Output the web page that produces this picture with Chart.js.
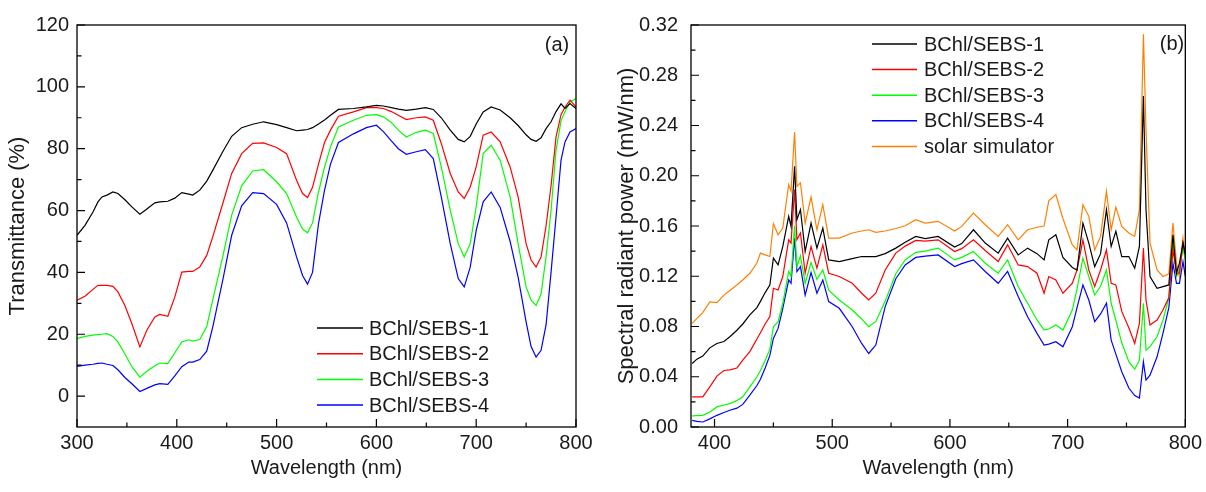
<!DOCTYPE html>
<html>
<head>
<meta charset="utf-8">
<script src="https://cdn.jsdelivr.net/npm/chart.js@4.4.1/dist/chart.umd.min.js"></script>
<style>
  html, body { margin: 0; padding: 0; background: #fff; }
  #wrap { position: relative; width: 1206px; height: 492px; }
  .panel { position: absolute; top: 0; height: 492px; }
  #panelA { left: 0; width: 600px; }
  #panelB { left: 600px; width: 606px; }
</style>
</head>
<body>
<div id="wrap">
  <div class="panel" id="panelA"><canvas id="chartA"></canvas></div>
  <div class="panel" id="panelB"><canvas id="chartB"></canvas></div>
</div>
<script>
// ---- data, panel (a): transmittance (%) ----
const waveA = [300,308,316,321,325,330,336,341,348,355,363,370,378,383,391,398,405,412,416,423,
  430,436,446,455,465,476,487,500,510,520,526,531,536,542,548,554,562,577,590,600,
  607,615,622,630,640,649,657,665,674,682,688,694,700,707,715,724,734,742,750,755,
  760,765,770,775,780,785,789,794,800];
const transA1 = [52,55.2,59.5,62.8,64.4,65,66,65.5,63.5,61.2,58.8,60.5,62.5,62.8,63,64,65.8,65.3,65,66.6,
  69.5,73,79,84,86.8,87.9,88.7,87.8,86.8,85.8,86,86.2,86.8,88,89.3,90.8,92.7,93,93.5,94,
  93.8,93.3,92.8,92.4,92.8,93.3,92.7,90,86,83,82.2,84,88,91.9,93.5,92.5,90,87.5,84.5,83,
  82.4,83.5,86.5,88.7,92,94.5,93,94.6,93];
const transA2 = [31,32.3,34.5,35.8,35.8,35.8,35.5,33.7,29.3,23.4,15.9,21.3,25.6,26.4,25.8,32,40.1,40.3,40.3,41.7,
  45.5,51.5,62.2,72,78.4,81.7,81.9,80.4,78.4,69.8,65.5,64.2,67.5,75,82,86,90.5,91.9,93.3,93.3,
  93,92,90.8,89.4,90,90.3,89.2,81.7,72,66,63.9,67.6,74.1,84.4,85.4,82.2,74.1,64.4,49.3,44,
  41.7,45,55,68,83.8,91,93.5,95.7,93.5];
const transA3 = [18.6,19.3,19.7,19.9,20,20.2,19.3,17.5,13.6,9.5,6.1,8,9.8,10.7,10.5,14,17.5,18.2,17.8,18.3,
  22.5,31,45,58.5,68,72.8,73.2,69.3,65.5,57.9,54,52.8,56,66,74,80.6,87,89.2,90.8,91,
  90.3,88.5,86,83.8,85.3,86,84.9,74.1,60.1,49.3,45,49.3,61.2,78.4,81.1,76.3,64.4,49.3,35.3,31,
  29.3,33,45,60,79.5,89,92,95.1,96.2];
const transA4 = [9.6,10,10.3,10.6,10.7,10.3,9.9,8.5,6,4,1.5,2.5,3.6,4,3.8,6.5,9.5,11,11,11.8,
  14.5,22.3,37.4,52,61.5,65.8,65.5,62,56,45,39,36.2,40,55.8,66.5,75,82,84.8,86.8,87.6,
  85.5,82.5,80,78.2,79,79.7,76.8,64.4,49.3,38,35.3,41.7,53.6,62.8,66,61,50,38.5,24,16,
  12.6,14.8,23,40,58,76.3,82.2,85.4,86.5];

// ---- data, panel (b): spectral radiant power (mW/nm) ----
const waveB = [381,385,390,396,402,408,413,419,424,430,436,439,443,447,450,454,458,463,465,468,
  470,473,477,482,487,492,497,506,517,525,531,537,545,554,562,571,579,590,604,610,
  620,630,641,649,658,666,674,680,684,690,696,704,708,713,718,723,728,733,737,741,
  746,752,757,761,764.4,766.6,770,776,781,786,789.5,792.5,795,798,800];
const powerB1 = [0.0506,0.0540,0.0565,0.0630,0.0665,0.0680,0.0719,0.0770,0.0820,0.0892,
  0.0950,0.1000,0.1070,0.1130,0.1344,0.1290,0.1437,0.1677,0.1597,0.2076,
  0.1650,0.1730,0.1397,0.1623,0.1424,0.1583,0.1330,0.1317,0.1340,0.1357,
  0.1357,0.1357,0.1380,0.1424,0.1470,0.1517,0.1500,0.1517,0.1432,0.1460,
  0.1570,0.1464,0.1384,0.1504,0.1370,0.1424,0.1380,0.1330,0.1490,0.1530,
  0.1350,0.1270,0.1250,0.1623,0.1464,0.1277,0.1380,0.1730,0.1437,0.1557,
  0.1357,0.1357,0.1264,0.1437,0.2635,0.1730,0.1198,0.1104,0.1118,0.1131,
  0.1530,0.1224,0.1304,0.1464,0.1370];
const powerB2 = [0.0240,0.0240,0.0240,0.0320,0.0405,0.0450,0.0455,0.0470,0.0532,0.0600,
  0.0700,0.0750,0.0820,0.0880,0.1104,0.1090,0.1198,0.1490,0.1464,0.1890,
  0.1490,0.1544,0.1224,0.1437,0.1264,0.1450,0.1224,0.1198,0.1144,0.1065,
  0.1011,0.1065,0.1250,0.1384,0.1440,0.1485,0.1480,0.1490,0.1397,0.1420,
  0.1490,0.1405,0.1317,0.1450,0.1290,0.1277,0.1224,0.1065,0.1198,0.1171,
  0.1065,0.1144,0.1250,0.1490,0.1250,0.1118,0.1250,0.1410,0.1144,0.1131,
  0.0920,0.0790,0.0665,0.0825,0.1424,0.1011,0.0812,0.0852,0.0931,0.1030,
  0.1410,0.1224,0.1224,0.1464,0.1384];
const powerB3 = [0.0088,0.0090,0.0093,0.0120,0.0160,0.0175,0.0186,0.0210,0.0240,0.0320,
  0.0400,0.0450,0.0530,0.0620,0.0798,0.0838,0.0985,0.1238,0.1198,0.1602,
  0.1277,0.1363,0.1144,0.1309,0.1176,0.1250,0.1090,0.1011,0.0931,0.0860,
  0.0798,0.0840,0.1000,0.1220,0.1330,0.1390,0.1400,0.1424,0.1330,0.1350,
  0.1397,0.1304,0.1224,0.1330,0.1118,0.0985,0.0852,0.0772,0.0780,0.0812,
  0.0772,0.0931,0.1100,0.1344,0.1198,0.1051,0.1120,0.1250,0.0985,0.0850,
  0.0670,0.0520,0.0460,0.0532,0.0985,0.0612,0.0640,0.0720,0.0850,0.1030,
  0.1490,0.1198,0.1250,0.1424,0.1330];
const powerB4 = [0.0053,0.0045,0.0040,0.0065,0.0093,0.0115,0.0133,0.0150,0.0180,0.0253,
  0.0330,0.0380,0.0470,0.0570,0.0705,0.0785,0.0945,0.1170,0.1144,0.1504,
  0.1238,0.1277,0.1050,0.1230,0.1065,0.1170,0.0998,0.0945,0.0798,0.0665,
  0.0585,0.0652,0.0958,0.1180,0.1290,0.1350,0.1360,0.1370,0.1277,0.1300,
  0.1330,0.1238,0.1144,0.1238,0.1038,0.0878,0.0745,0.0652,0.0660,0.0679,
  0.0639,0.0798,0.0950,0.1131,0.1011,0.0838,0.0900,0.0985,0.0692,0.0580,
  0.0440,0.0310,0.0250,0.0230,0.0519,0.0373,0.0413,0.0559,0.0745,0.0950,
  0.1304,0.1144,0.1144,0.1317,0.1198];
const powerSolar = [0.0825,0.0865,0.0910,0.0995,0.0990,0.1050,0.1086,0.1130,0.1170,0.1224,
  0.1305,0.1384,0.1370,0.1357,0.1618,0.1530,0.1583,0.1930,0.1876,0.2347,
  0.1916,0.1943,0.1623,0.1830,0.1570,0.1770,0.1504,0.1504,0.1544,0.1560,
  0.1570,0.1550,0.1560,0.1580,0.1602,0.1650,0.1623,0.1637,0.1560,0.1597,
  0.1703,0.1610,0.1517,0.1610,0.1490,0.1570,0.1590,0.1600,0.1800,0.1850,
  0.1660,0.1450,0.1410,0.1770,0.1677,0.1410,0.1517,0.1876,0.1570,0.1750,
  0.1597,0.1544,0.1517,0.1730,0.3127,0.2369,0.1464,0.1250,0.1198,0.1220,
  0.1623,0.1304,0.1198,0.1504,0.1357];

const sampleLabels = ["BChl/SEBS-1", "BChl/SEBS-2", "BChl/SEBS-3", "BChl/SEBS-4"];
const solarLabel = "solar simulator";

// tick values
const xMajorA = [300, 400, 500, 600, 700, 800];
const xMinorA = [350, 450, 550, 650, 750];
const yMajorA = [0, 20, 40, 60, 80, 100, 120];
const yMinorA = [10, 30, 50, 70, 90, 110];
const xMajorB = [400, 500, 600, 700, 800];
const xMinorB = [450, 550, 650, 750];
const yMajorB = [0, 0.04, 0.08, 0.12, 0.16, 0.20, 0.24, 0.28, 0.32];
const yMinorB = [0.02, 0.06, 0.10, 0.14, 0.18, 0.22, 0.26, 0.30];

const FONT = "'Liberation Sans', Arial, Helvetica, sans-serif";
const TEXT = "#1a1a1a";
Chart.defaults.font.family = FONT;
Chart.defaults.color = TEXT;

// frame around the plot plus inward tick marks on the bottom and left axes
const inwardTicks = {
  id: "inwardTicks",
  afterDatasetsDraw(chart, args, opts) {
    const { ctx, chartArea: area, scales } = chart;
    ctx.save();
    ctx.strokeStyle = "#000";
    ctx.lineWidth = 1.3;
    ctx.strokeRect(area.left, area.top, area.right - area.left, area.bottom - area.top);
    ctx.lineWidth = 1.2;
    ctx.beginPath();
    const mark = (scale, values, len) => {
      values.forEach((v) => {
        const p = scale.getPixelForValue(v);
        if (scale.axis === "x") {
          ctx.moveTo(p, area.bottom);
          ctx.lineTo(p, area.bottom - len);
        } else {
          ctx.moveTo(area.left, p);
          ctx.lineTo(area.left + len, p);
        }
      });
    };
    mark(scales.x, opts.xMajor, 8);
    mark(scales.x, opts.xMinor, 4.5);
    mark(scales.y, opts.yMajor, 8);
    mark(scales.y, opts.yMinor, 4.5);
    ctx.stroke();
    ctx.restore();
  },
};

// legend and panel tag drawn inside the plot area
const boxLegend = {
  id: "boxLegend",
  afterDraw(chart, args, opts) {
    const { ctx } = chart;
    ctx.save();
    ctx.font = "20px " + FONT;
    ctx.textBaseline = "middle";
    chart.data.datasets.forEach((ds, i) => {
      const y = opts.top + i * opts.rowHeight;
      ctx.strokeStyle = ds.borderColor;
      ctx.lineWidth = 1.5;
      ctx.beginPath();
      ctx.moveTo(opts.lineStart, y);
      ctx.lineTo(opts.lineEnd, y);
      ctx.stroke();
      ctx.fillStyle = TEXT;
      ctx.textAlign = "left";
      ctx.fillText(ds.label, opts.textStart, y + 1);
    });
    ctx.textAlign = "center";
    ctx.fillStyle = TEXT;
    ctx.fillText(opts.tag, opts.tagX, opts.tagY);
    ctx.restore();
  },
};

const toPoints = (xs, ys) => xs.map((x, i) => ({ x: x, y: ys[i] }));

const line = (label, color, xs, ys) => ({
  label: label,
  data: toPoints(xs, ys),
  borderColor: color,
  borderWidth: 1.2,
  pointRadius: 0,
  tension: 0,
  fill: false,
});

const makeChart = (id, datasets, cfg) =>
  new Chart(document.getElementById(id), {
    type: "line",
    data: { datasets: datasets },
    plugins: [inwardTicks, boxLegend],
    options: {
      responsive: true,
      maintainAspectRatio: false,
      devicePixelRatio: 1,
      animation: false,
      layout: { padding: cfg.padding },
      plugins: {
        legend: { display: false },
        tooltip: { enabled: false },
        inwardTicks: cfg.ticks,
        boxLegend: cfg.legend,
      },
      scales: {
        x: {
          type: "linear",
          min: cfg.xMin,
          max: cfg.xMax,
          grid: { display: false, drawTicks: false },
          border: { display: false },
          afterBuildTicks: (s) => { s.ticks = cfg.ticks.xMajor.map((v) => ({ value: v })); },
          ticks: {
            padding: 4,
            maxRotation: 0,
            autoSkip: false,
            font: { size: 20 },
            color: TEXT,
            callback: (v) => String(v),
          },
          title: {
            display: true,
            text: "Wavelength (nm)",
            font: { size: 20 },
            color: TEXT,
            padding: { top: 0, bottom: 12 },
          },
          afterFit: (s) => { s.height = 65; },
        },
        y: {
          min: cfg.yMin,
          max: cfg.yMax,
          grid: { display: false, drawTicks: false },
          border: { display: false },
          afterBuildTicks: (s) => { s.ticks = cfg.ticks.yMajor.map((v) => ({ value: v })); },
          ticks: {
            padding: cfg.yPad,
            autoSkip: false,
            font: { size: 20 },
            color: TEXT,
            callback: cfg.yFormat,
          },
          title: {
            display: true,
            text: cfg.yTitle,
            font: { size: 22 },
            color: TEXT,
            padding: { top: cfg.yTitlePad, bottom: 0 },
          },
          afterFit: (s) => { s.width = cfg.yWidth; },
        },
      },
    },
  });

makeChart("chartA", [
  line(sampleLabels[0], "#000000", waveA, transA1),
  line(sampleLabels[1], "#ff0000", waveA, transA2),
  line(sampleLabels[2], "#00ff00", waveA, transA3),
  line(sampleLabels[3], "#0000ff", waveA, transA4),
], {
  padding: { top: 25, right: 24, left: 0, bottom: 0 },
  xMin: 300, xMax: 800,
  yMin: -10, yMax: 120, yPad: 8, yWidth: 77, yTitlePad: 5,
  yTitle: "Transmittance (%)",
  yFormat: (v) => String(v),
  ticks: { xMajor: xMajorA, xMinor: xMinorA, yMajor: yMajorA, yMinor: yMinorA },
  legend: { top: 328, rowHeight: 25.7, lineStart: 317, lineEnd: 363, textStart: 369,
            tag: "(a)", tagX: 557, tagY: 45 },
});

makeChart("chartB", [
  line(sampleLabels[0], "#000000", waveB, powerB1),
  line(sampleLabels[1], "#ff0000", waveB, powerB2),
  line(sampleLabels[2], "#00ff00", waveB, powerB3),
  line(sampleLabels[3], "#0000ff", waveB, powerB4),
  line(solarLabel, "#ff8000", waveB, powerSolar),
], {
  padding: { top: 25, right: 17, left: 0, bottom: 0 },
  xMin: 380, xMax: 800,
  yMin: 0, yMax: 0.32, yPad: 13, yWidth: 91, yTitlePad: 14,
  yTitle: "Spectral radiant power (mW/nm)",
  yFormat: (v) => v.toFixed(2),
  ticks: { xMajor: xMajorB, xMinor: xMinorB, yMajor: yMajorB, yMinor: yMinorB },
  legend: { top: 44, rowHeight: 25.6, lineStart: 272, lineEnd: 317, textStart: 324,
            tag: "(b)", tagX: 572, tagY: 44 },
});
</script>
</body>
</html>
